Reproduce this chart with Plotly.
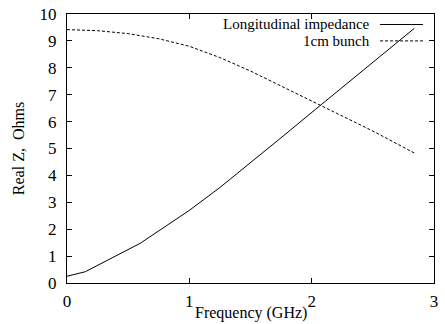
import plotly.graph_objects as go

# Data
freq_long = [0.0, 0.15, 0.6, 1.0, 1.25, 1.58, 1.75, 2.07, 2.84]
z_long = [0.25, 0.42, 1.48, 2.7, 3.55, 4.75, 5.4, 6.6, 9.47]

freq_bunch = [0.0, 0.25, 0.5, 0.75, 1.0, 1.25, 1.5, 1.75, 2.0, 2.25, 2.5, 2.84]
z_bunch = [9.42, 9.38, 9.27, 9.08, 8.8, 8.38, 7.88, 7.33, 6.78, 6.22, 5.65, 4.83]

series_names = ["Longitudinal impedance", "1cm bunch"]
x_ticks = [0, 1, 2, 3]
y_ticks = list(range(0, 11))
x_title = "Frequency (GHz)"
y_title = "Real Z,  Ohms"

FONT = "Liberation Serif, Times New Roman, serif"

fig = go.Figure()
fig.add_trace(go.Scatter(x=freq_long, y=z_long, mode="lines", name=series_names[0],
                         line=dict(color="black", width=1), showlegend=False))
fig.add_trace(go.Scatter(x=freq_bunch, y=z_bunch, mode="lines", name=series_names[1],
                         line=dict(color="black", width=1, dash="3px,2px"), showlegend=False))

# Custom legend: right-aligned text with line samples to the right
legend_rows = [(0.961, "solid"), (0.900, "3px,2px")]
for name, (yy, dash) in zip(series_names, legend_rows):
    fig.add_annotation(x=0.83, y=yy, xref="paper", yref="paper", text=name,
                       showarrow=False, xanchor="right", yanchor="middle",
                       font=dict(family=FONT, size=15, color="black"))
    fig.add_shape(type="line", xref="paper", yref="paper", x0=0.853, x1=0.97,
                  y0=yy, y1=yy, line=dict(color="black", width=1, dash=dash))

# X axis title as annotation for precise placement
fig.add_annotation(x=0.5, y=-0.1115, xref="paper", yref="paper", text=x_title,
                   showarrow=False, xanchor="center", yanchor="middle",
                   font=dict(family=FONT, size=16, color="black"))

axis_common = dict(showline=True, linecolor="black", linewidth=1, mirror="ticks",
                   ticks="inside", ticklen=5, tickcolor="black", tickwidth=1,
                   showgrid=False, zeroline=False, automargin=False,
                   tickfont=dict(family=FONT, size=17, color="black"))

fig.update_xaxes(range=[0, 3], tickvals=x_ticks, ticklabelstandoff=3, **axis_common)
fig.update_yaxes(range=[0, 10], tickvals=y_ticks, ticklabelstandoff=6,
                 title=dict(text=y_title,
                            font=dict(family=FONT, size=16, color="black"), standoff=10),
                 **axis_common)

fig.update_layout(width=445, height=324, margin=dict(l=67, r=11, t=14, b=41),
                  paper_bgcolor="white", plot_bgcolor="white",
                  font=dict(family=FONT, color="black"))

fig.write_html("out.html")
